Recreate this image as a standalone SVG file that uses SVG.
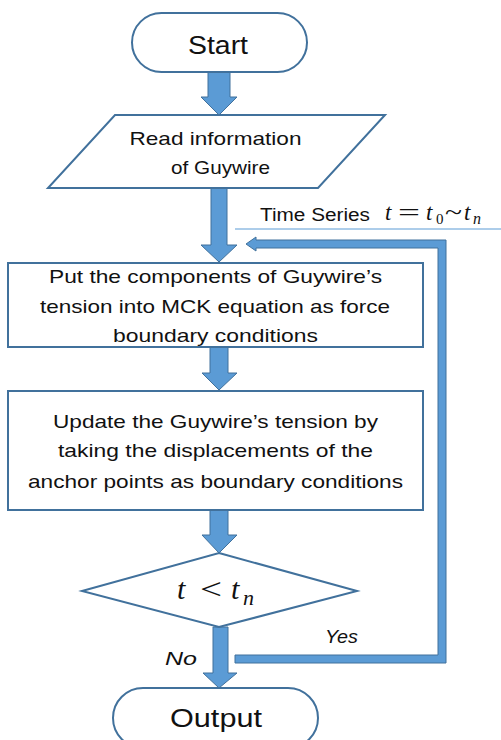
<svg xmlns="http://www.w3.org/2000/svg" width="501" height="740" viewBox="0 0 501 740">
<style>
.node{fill:#fff;stroke:#41719C;stroke-width:2}
.blk{fill:#5B9BD5;stroke:#41719C;stroke-width:1}
.t{font-family:"Liberation Sans",Arial,sans-serif;fill:#111;text-anchor:middle;font-size:19px}
.m{font-family:"Liberation Serif","DejaVu Serif",serif;font-style:italic;fill:#111}
.r{font-family:"Liberation Serif","DejaVu Serif",serif;fill:#111}
.i{font-family:"Liberation Sans",Arial,sans-serif;font-style:italic;fill:#111;text-anchor:middle;font-size:19px}
</style>
<rect width="501" height="740" fill="#fff"/>
<g id="connectors">
<polygon class="blk" points="208,72 230,72 230,97 237,97 219,115 201,97 208,97"/>
<polygon class="blk" points="211,188 227,188 227,245 237,245 219,262 201,245 211,245"/>
<polygon class="blk" points="210,347 228,347 228,373 237,373 219,390 202,373 210,373"/>
<polygon class="blk" points="210,510 228,510 228,535 237,535 219,553 202,535 210,535"/>
<polygon class="blk" points="213,627 228,627 228,673 237,673 219,688 203,673 213,673"/>
<polygon class="blk" points="235,655 438,655 438,248 256,248 256,251 246,244 256,237 256,240 446,240 446,663 235,663"/>
<line x1="235" y1="229" x2="501" y2="229" stroke="#5B9BD5" stroke-width="1"/>
</g>
<g id="start">
<rect class="node" x="132" y="13" width="175" height="59" rx="29.5"/>
<text class="t" x="218" y="54" style="font-size:26px" textLength="60" lengthAdjust="spacingAndGlyphs">Start</text>
</g>
<g id="read">
<polygon class="node" points="115,115 385,115 318,188 48,188"/>
<text class="t" x="215.5" y="145" textLength="172" lengthAdjust="spacingAndGlyphs">Read information</text>
<text class="t" x="220.5" y="174" textLength="99" lengthAdjust="spacingAndGlyphs">of Guywire</text>
</g>
<g id="timeseries">
<text x="260" y="221" font-family="Liberation Sans,Arial,sans-serif" font-size="18" fill="#111" textLength="110" lengthAdjust="spacingAndGlyphs">Time Series</text>
<text class="m" x="385" y="220" font-size="23">t</text>
<text class="r" x="398" y="220" font-size="23" textLength="22" lengthAdjust="spacingAndGlyphs">=</text>
<text class="m" x="426" y="220" font-size="23">t</text>
<text class="r" x="436" y="224" font-size="15">0</text>
<text class="r" x="445" y="220" font-size="23" textLength="17" lengthAdjust="spacingAndGlyphs">~</text>
<text class="m" x="464" y="220" font-size="23">t</text>
<text class="m" x="473" y="224" font-size="16">n</text>
</g>
<g id="put">
<rect class="node" x="8" y="263" width="415" height="84"/>
<text class="t" x="215.5" y="283" textLength="333" lengthAdjust="spacingAndGlyphs">Put the components of Guywire’s</text>
<text class="t" x="215" y="313" textLength="350" lengthAdjust="spacingAndGlyphs">tension into MCK equation as force</text>
<text class="t" x="215.5" y="342" textLength="205" lengthAdjust="spacingAndGlyphs">boundary conditions</text>
</g>
<g id="update">
<rect class="node" x="8" y="391" width="415" height="119"/>
<text class="t" x="215.5" y="428" textLength="325" lengthAdjust="spacingAndGlyphs">Update the Guywire’s tension by</text>
<text class="t" x="215.5" y="457" textLength="315" lengthAdjust="spacingAndGlyphs">taking the displacements of the</text>
<text class="t" x="215.5" y="488" textLength="375" lengthAdjust="spacingAndGlyphs">anchor points as boundary conditions</text>
</g>
<g id="decision">
<polygon class="node" points="219,553 357,591 219,627 82,591"/>
<text class="m" x="177" y="599" font-size="30">t</text>
<text class="r" x="200" y="599" font-size="30" textLength="22" lengthAdjust="spacingAndGlyphs">&lt;</text>
<text class="m" x="231" y="599" font-size="30">t</text>
<text class="m" x="243" y="605" font-size="22">n</text>
</g>
<g id="labels">
<text class="i" x="341.5" y="643" textLength="33" lengthAdjust="spacingAndGlyphs">Yes</text>
<text class="i" x="181" y="665" textLength="32" lengthAdjust="spacingAndGlyphs">No</text>
</g>
<g id="output">
<rect class="node" x="113" y="688" width="205" height="60" rx="30"/>
<text class="t" x="216" y="727" style="font-size:25px" textLength="92" lengthAdjust="spacingAndGlyphs">Output</text>
</g>
</svg>
